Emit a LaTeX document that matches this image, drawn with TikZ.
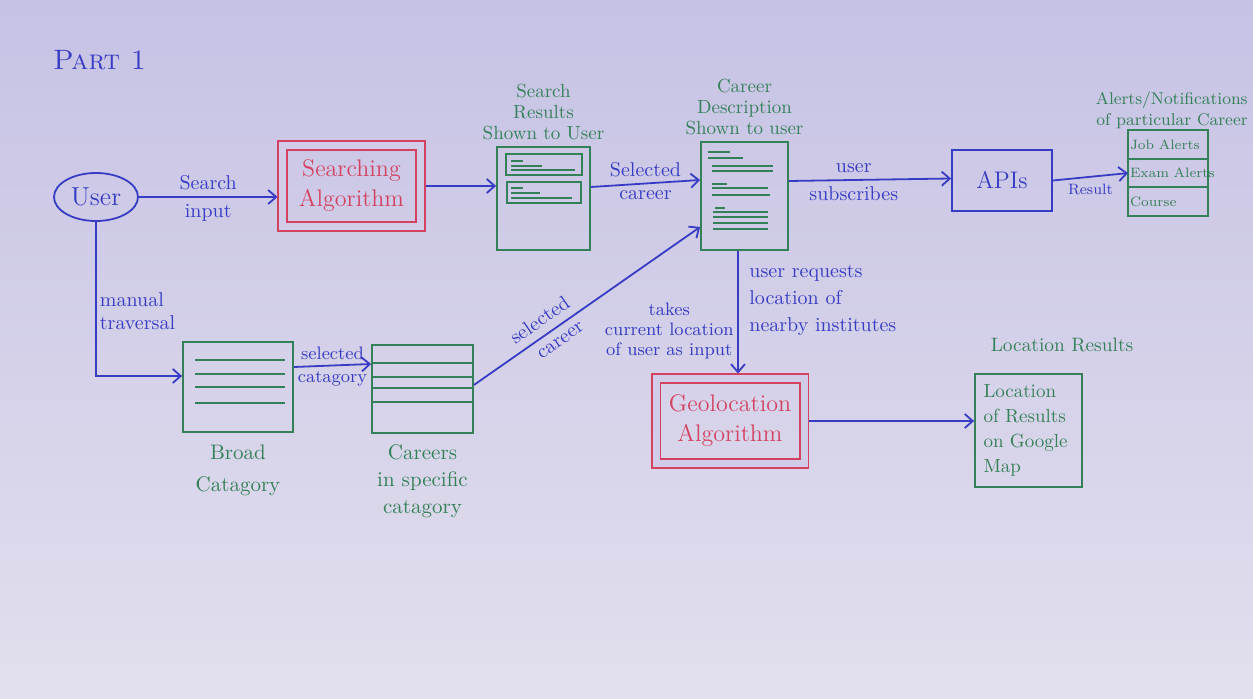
\documentclass[tikz,border=0pt]{standalone}
\usepackage{xcolor}
\usepackage{tikz}
\usetikzlibrary{shapes.geometric,positioning,arrows.meta}

\definecolor{inkblue}{RGB}{56,60,196}
\definecolor{inkred}{RGB}{212,66,98}
\definecolor{inkgreen}{RGB}{52,128,88}
\definecolor{papertop}{RGB}{198,194,228}
\definecolor{paperbot}{RGB}{226,223,238}
\definecolor{papermid}{RGB}{209,205,232}

\begin{document}
\begin{tikzpicture}[x=0.5pt,y=-0.5pt,
    ink/.style={line width=0.9pt},
    thin ink/.style={inkgreen, line width=0.55pt},
    flow/.style={ink, draw=inkblue, -{Straight Barb[length=4pt,width=7pt]}},
    algbox/.style={draw=inkred, line width=0.9pt, double=papermid, double distance=3.5pt,
        outer sep=2.5pt, text=inkred, align=center, font=\fontsize{12}{15}\selectfont},
    pagebox/.style={draw=inkgreen, ink},
    alertrow/.style={draw=inkgreen, ink, minimum width=40pt, minimum height=14.3pt,
        text width=38pt, align=left, inner sep=1pt, outer sep=0pt,
        text=inkgreen, font=\fontsize{6.8}{7}\selectfont},
    bluelbl/.style={text=inkblue, font=\fontsize{10}{11.5}\selectfont, align=center, inner sep=1.5pt},
    edgelbl/.style={bluelbl, inner sep=3pt},
    greenlbl/.style={text=inkgreen, font=\fontsize{9.5}{10.5}\selectfont, align=center, inner sep=1pt}]
                % Paper
                \useasboundingbox (0,0) rectangle (1253,699);
                \fill[top color=papertop, bottom color=paperbot] (0,0) rectangle (1253,699);
                
                % Heading
                \node[text=inkblue, font=\fontsize{14}{14}\selectfont, anchor=west] (part) at (46,60) {\textsc{Part 1}};
                
                % Top row
                \node[ellipse, draw=inkblue, ink, minimum width=42pt, minimum height=24pt, inner sep=0pt,
                    text=inkblue, font=\fontsize{13}{13}\selectfont] (user) at (96,197) {User};
                \node[algbox, minimum width=69pt, minimum height=40.25pt] (salgo) at (351.5,186) {Searching\\Algorithm};
                \node[pagebox, minimum width=46.5pt, minimum height=51.5pt] (sres) at (543.5,198.5) {};
                \node[pagebox, minimum width=43.5pt, minimum height=54pt] (cdesc) at (744.5,196) {};
                \node[draw=inkblue, ink, minimum width=50pt, minimum height=30.5pt,
                    text=inkblue, font=\fontsize{12}{12}\selectfont] (apis) at (1002,180.5) {APIs};
                \node[alertrow] (jobal) at (1168,144.5) {Job Alerts};
                \node[alertrow, below=0pt of jobal] (examal) {Exam~Alerts};
                \node[alertrow, below=0pt of examal] (course) {Course};
                
                % Search results shown as two entries
                \draw[thin ink] (506,154) rectangle (582,175);
                \draw[thin ink] (511,161) -- (523,161) (511,166) -- (542,166) (511,170) -- (575,170);
                \draw[thin ink] (507,182) rectangle (581,203);
                \draw[thin ink] (511,188) -- (523,188) (511,193) -- (540,193) (511,198) -- (572,198);
                
                % Career description text lines
                \draw[inkgreen, line width=1pt] (708,152) -- (730,152);
                \draw[thin ink] (708,158) -- (743,158) (712,166) -- (773,166) (712,171) -- (773,171);
                \draw[inkgreen, line width=0.8pt] (712,184) -- (727,184);
                \draw[thin ink] (712,188) -- (768,188) (712,195) -- (770,195);
                \draw[inkgreen, line width=0.8pt] (715,208) -- (725,208);
                \draw[thin ink] (713,212) -- (768,212) (713,217) -- (768,217) (713,223) -- (768,223) (713,229) -- (768,229);
                
                % Labels of the top row
                \node[greenlbl, above=2pt of sres] (sreslbl) {Search\\Results\\Shown to User};
                \node[greenlbl, above=2pt of cdesc] (cdesclbl) {Career\\Description\\Shown to user};
                \node[greenlbl, font=\fontsize{8.5}{10.5}\selectfont, align=right, anchor=south east] (alertlbl) at (1250,131) {Alerts/Notifications\\of particular Career};
                
                % Top row flow
                \draw[flow] (user.east) -- (user.east -| salgo.west)
                    node[midway, above, edgelbl] (srchlbl) {Search}
                    node[midway, below, edgelbl] (inplbl) {input};
                \draw[flow] (salgo.east) -- (salgo.east -| sres.west);
                \draw[flow] ([yshift=5.75pt]sres.east) -- ([yshift=8pt]cdesc.west)
                    node[midway, above, edgelbl] (sellbl) {Selected}
                    node[midway, below, edgelbl] (carlbl) {career};
                \draw[flow] ([yshift=7.5pt]cdesc.east) -- ([yshift=1pt]apis.west)
                    node[pos=0.4, above, edgelbl] (userlbl) {user}
                    node[pos=0.4, below, edgelbl] (sublbl) {subscribes};
                \draw[flow] (apis.east) -- (examal.west)
                    node[midway, below, edgelbl, font=\fontsize{7.5}{8}\selectfont] (reslbl) {Result};
                
                % Manual traversal
                \node[pagebox, minimum width=55pt, minimum height=45pt] (broad) at (238,387) {};
                \draw[thin ink] (195,360) -- (285,360) (195,374) -- (285,374) (195,387) -- (285,387) (195,403) -- (285,403);
                \node[pagebox, minimum width=50.5pt, minimum height=44pt] (carsp) at (422.5,389) {};
                \draw[thin ink] (372,363) -- (473,363) (372,377) -- (473,377) (372,388) -- (473,388) (372,402) -- (473,402);
                \node[greenlbl, font=\fontsize{10.5}{16}\selectfont, below=5pt of broad] (broadlbl) {Broad\\Catagory};
                \node[greenlbl, font=\fontsize{10.5}{13.5}\selectfont, below=4pt of carsp] (carsplbl) {Careers\\in specific\\catagory};
                
                \draw[flow] (user.south) |- ([yshift=5.5pt]broad.west)
                    node[pos=0.29, right, bluelbl, align=left] (manlbl) {manual\\traversal};
                \draw[flow] ([yshift=10pt]broad.east) -- ([yshift=12.5pt]carsp.west)
                    node[midway, above, edgelbl, inner sep=2.5pt, font=\fontsize{9}{9}\selectfont] (selcatlbl) {selected}
                    node[midway, below, edgelbl, inner sep=2.5pt, font=\fontsize{9}{9}\selectfont] (catlbl) {catagory};
                \draw[flow] ([yshift=2pt]carsp.east) -- ([yshift=-15.5pt]cdesc.west)
                    node[pos=0.33, sloped, above, edgelbl, inner sep=4pt] (selcarlbl) {selected}
                    node[pos=0.35, sloped, below, edgelbl, inner sep=4pt] (carcarlbl) {career};
                
                % Location search
                \node[algbox, minimum width=74pt, minimum height=42.5pt] (geo) at (730,421) {Geolocation\\Algorithm};
                \node[pagebox, minimum height=56.5pt, text width=45pt, inner xsep=4.25pt, align=left,
                    text=inkgreen, font=\fontsize{9.5}{12.5}\selectfont] (locres) at (1028.5,430.5) {Location\\of Results\\on Google\\Map};
                \node[greenlbl, font=\fontsize{9.7}{10}\selectfont] (locreslbl) at (1062,345) {Location Results};
                
                \draw[flow] ([xshift=-3.25pt]cdesc.south) -- ([xshift=-3.25pt]cdesc.south |- geo.north);
                \node[bluelbl, anchor=north west, align=left, font=\fontsize{10}{13.5}\selectfont] (reqlbl) at (746,262) {user requests\\location of\\nearby institutes};
                \node[bluelbl, anchor=east, font=\fontsize{9}{10}\selectfont] (takelbl) at (737,331) {takes\\current location\\of user as input};
                \draw[flow] (geo.east) -- (geo.east -| locres.west);
            \end{tikzpicture}
\end{document}
